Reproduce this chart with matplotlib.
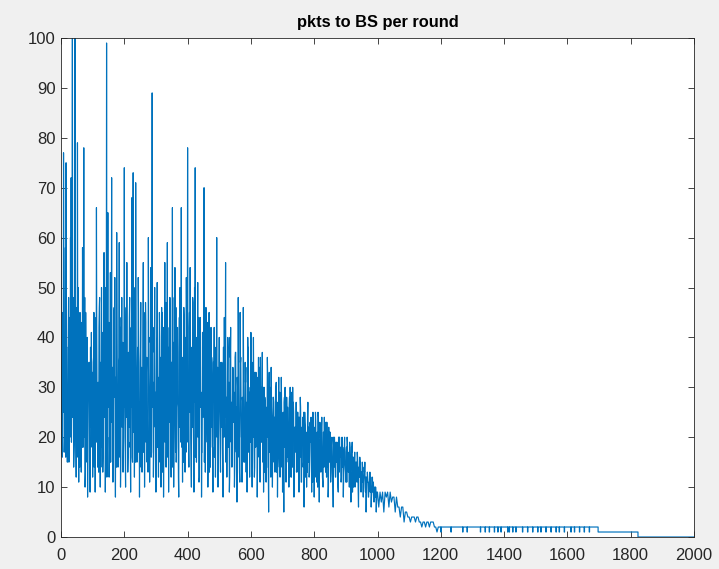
#Description
"""
Plots the number of packets delivered to the base station in every round.
"""

#Libraries
import matplotlib
matplotlib.use('Agg')
import matplotlib.pyplot as plt
import numpy as np

#Data
##Packets on rounds 0, 4, 8, ... 996 (peaks and troughs)
pkts_0 = [60, 16, 77, 18, 75, 15, 48, 20, 72, 100, 14, 100, 12, 79, 11, 45, 13, 58, 78, 10, 33, 8, 35, 9, 41]
pkts_100 = [12, 45, 9, 66, 14, 42, 10, 50, 13, 57, 9, 99, 65, 12, 53, 72, 11, 46, 8, 61, 14, 59, 10, 48, 13]
pkts_200 = [74, 10, 55, 16, 44, 9, 68, 73, 12, 71, 15, 52, 8, 47, 13, 55, 10, 43, 15, 60, 11, 54, 89, 12, 50]
pkts_300 = [9, 51, 12, 40, 10, 45, 8, 55, 14, 59, 9, 48, 12, 66, 10, 54, 15, 42, 8, 50, 66, 11, 46, 13, 52]
pkts_400 = [78, 14, 54, 10, 48, 9, 74, 15, 51, 11, 44, 8, 41, 70, 13, 38, 10, 45, 14, 36, 9, 42, 12, 60, 10]
pkts_500 = [40, 13, 35, 8, 44, 55, 12, 38, 9, 42, 14, 33, 10, 37, 7, 48, 13, 36, 11, 46, 15, 34, 9, 38, 12]
pkts_600 = [41, 10, 40, 14, 33, 8, 36, 12, 30, 37, 9, 28, 11, 36, 5, 30, 34, 10, 27, 13, 31, 8, 32, 12, 32]
pkts_700 = [9, 5, 30, 14, 26, 10, 30, 12, 30, 8, 22, 13, 25, 9, 28, 11, 24, 6, 22, 10, 27, 12, 20, 9, 25]
pkts_800 = [8, 25, 11, 25, 7, 22, 24, 10, 24, 13, 23, 8, 21, 11, 20, 6, 20, 12, 19, 9, 20, 14, 20, 8, 20]
pkts_900 = [11, 20, 13, 19, 7, 19, 10, 17, 12, 17, 6, 16, 9, 15, 11, 15, 5, 13, 8, 13, 6, 12, 9, 10, 5]

##Packets on rounds 2, 6, 10, ... 998
mid_0 = [22, 45, 17, 58, 25, 38, 16, 60, 30, 48, 19, 35, 27, 50, 14, 40, 24, 18, 32, 45, 15, 28, 22, 38, 18]
mid_100 = [35, 17, 42, 25, 30, 48, 22, 14, 38, 28, 45, 20, 33, 15, 40, 24, 31, 52, 20, 27, 35, 16, 44, 22, 30]
mid_200 = [20, 46, 26, 35, 18, 42, 15, 30, 50, 22, 38, 17, 35, 28, 20, 45, 24, 33, 19, 40, 26, 17, 30, 42, 22]
mid_300 = [38, 20, 33, 27, 46, 18, 40, 22, 30, 16, 42, 25, 35, 20, 48, 17, 32, 26, 44, 21, 18, 36, 24, 40, 19]
mid_400 = [28, 45, 20, 38, 24, 50, 18, 35, 21, 40, 27, 17, 33, 22, 46, 19, 30, 24, 42, 18, 35, 23, 38, 20, 31]
mid_500 = [22, 30, 18, 38, 24, 17, 33, 21, 40, 19, 28, 24, 36, 17, 30, 22, 45, 20, 27, 16, 35, 22, 40, 18, 30]
mid_600 = [20, 35, 18, 28, 24, 32, 16, 36, 22, 15, 30, 20, 26, 14, 33, 18, 24, 28, 15, 30, 19, 26, 14, 28, 20]
mid_700 = [25, 28, 18, 24, 15, 28, 20, 16, 27, 22, 17, 25, 14, 24, 18, 20, 15, 25, 18, 13, 22, 17, 24, 15, 20]
mid_800 = [22, 14, 20, 16, 23, 15, 12, 21, 17, 19, 14, 22, 16, 18, 12, 19, 15, 17, 13, 20, 16, 12, 18, 15, 14]
mid_900 = [18, 14, 17, 12, 18, 13, 16, 11, 15, 14, 12, 15, 13, 10, 14, 9, 12, 11, 10, 12, 9, 11, 8, 10, 9]

##Packets on odd rounds 1, 3, 5, ... 999
odd_0 = [30, 18, 42, 25, 55, 20, 35, 16, 47, 28, 22, 38, 15, 44, 26, 33, 19, 50, 24, 36, 17, 41, 29, 21, 46,
         16, 34, 27, 39, 14, 31, 23, 43, 18, 37, 25, 20, 48, 13, 32, 26, 40, 17, 29, 35, 12, 38, 22, 27, 33]
odd_100 = [21, 36, 14, 44, 27, 19, 39, 25, 31, 13, 46, 22, 35, 18, 28, 41, 16, 33, 24, 50, 19, 30, 12, 37, 26,
           43, 20, 29, 15, 38, 23, 34, 17, 45, 28, 21, 32, 14, 40, 25, 18, 36, 27, 42, 16, 31, 22, 39, 19, 26]
odd_200 = [33, 17, 41, 24, 29, 13, 37, 22, 48, 19, 30, 26, 16, 43, 21, 35, 28, 15, 40, 23, 32, 18, 45, 27, 20,
           38, 14, 34, 25, 42, 17, 30, 22, 47, 19, 36, 24, 13, 39, 28, 21, 33, 16, 44, 26, 31, 18, 37, 23, 29]
odd_300 = [24, 40, 18, 32, 27, 45, 15, 36, 22, 29, 13, 42, 25, 34, 19, 47, 21, 30, 16, 38, 28, 23, 43, 17, 35,
           26, 14, 39, 20, 33, 24, 46, 18, 31, 27, 12, 37, 22, 41, 19, 29, 25, 36, 15, 44, 21, 32, 17, 38, 26]
odd_400 = [30, 19, 42, 25, 35, 14, 38, 22, 47, 18, 31, 27, 16, 40, 23, 33, 20, 44, 12, 36, 26, 29, 17, 41, 24,
           34, 15, 37, 21, 30, 28, 43, 19, 32, 13, 39, 25, 22, 35, 18, 31, 27, 16, 38, 23, 29, 20, 34, 14, 33]
odd_500 = [27, 16, 35, 22, 30, 13, 38, 20, 25, 33, 15, 28, 24, 40, 18, 31, 12, 36, 21, 27, 17, 34, 23, 29, 14,
           37, 19, 26, 32, 16, 30, 22, 11, 35, 25, 20, 28, 15, 33, 18, 24, 31, 13, 27, 21, 36, 17, 29, 23, 19]
odd_600 = [25, 14, 31, 20, 27, 12, 33, 18, 23, 29, 15, 26, 21, 34, 11, 28, 19, 24, 16, 30, 22, 13, 27, 18, 25,
           20, 32, 14, 23, 17, 29, 12, 26, 21, 19, 28, 15, 24, 22, 30, 13, 27, 18, 25, 16, 29, 20, 14, 26, 23]
odd_700 = [21, 13, 27, 18, 24, 11, 28, 16, 22, 19, 26, 12, 23, 17, 29, 14, 20, 25, 10, 22, 18, 27, 15, 21, 13,
           24, 19, 16, 26, 11, 22, 20, 14, 25, 17, 23, 12, 21, 18, 24, 15, 20, 13, 23, 19, 16, 22, 11, 21, 18]
odd_800 = [19, 12, 23, 16, 21, 10, 24, 15, 18, 20, 13, 22, 17, 11, 21, 14, 19, 16, 23, 12, 18, 20, 10, 17, 15,
           21, 13, 19, 16, 11, 20, 14, 18, 12, 19, 15, 17, 10, 20, 13, 16, 18, 11, 19, 14, 17, 12, 18, 15, 13]
odd_900 = [17, 11, 19, 14, 16, 10, 18, 13, 15, 17, 9, 16, 12, 14, 10, 15, 13, 11, 16, 9, 14, 12, 15, 10, 13,
           11, 14, 8, 12, 13, 10, 12, 9, 11, 12, 8, 11, 10, 9, 12, 8, 10, 9, 11, 7, 10, 8, 9, 7, 9]

##Rounds 1000..1196, every 4 rounds
pkts_1000 = [9, 6, 9, 7, 9, 5, 9, 8, 9, 6, 9, 7, 8, 8, 5, 8, 6, 6, 4, 6, 6, 3, 5, 5, 4]
pkts_1100 = [4, 3, 4, 4, 4, 3, 4, 4, 3, 3, 2, 3, 3, 2, 3, 3, 2, 3, 3, 3, 2, 2, 1, 2, 2]

##Tail: 2 packets per round with single-round drops to 1
tail_drops = [1200, 1232, 1269, 1283, 1325, 1340, 1353, 1369, 1380, 1390, 1411,
              1416, 1427, 1437, 1458, 1474, 1490, 1506, 1516, 1532, 1548, 1564,
              1574, 1590, 1611, 1622, 1638, 1653, 1669]
tail_end_rounds = [1697, 1823, 2000]
tail_end_pkts = [1, 0, 0]

#Styles
LINE_COLOR = '#0072BD'
AXIS_COLOR = '#262626'
BG_COLOR = '#F0F0F0'


#Main
def main():
    ##Rounds 0..999, one value per round
    peaks = pkts_0 + pkts_100 + pkts_200 + pkts_300 + pkts_400 + pkts_500 + pkts_600 + pkts_700 + pkts_800 + pkts_900
    mids = mid_0 + mid_100 + mid_200 + mid_300 + mid_400 + mid_500 + mid_600 + mid_700 + mid_800 + mid_900
    odds = odd_0 + odd_100 + odd_200 + odd_300 + odd_400 + odd_500 + odd_600 + odd_700 + odd_800 + odd_900
    evens = [v for pair in zip(peaks, mids) for v in pair]
    early_pkts = [v for pair in zip(evens, odds) for v in pair]
    early_rounds = list(np.arange(len(early_pkts)))

    ##Rounds 1000..1196
    late_pkts = pkts_1000 + pkts_1100
    late_rounds = list(np.arange(1000, 1200, 4))

    ##Tail as a step line
    tail_x, tail_y = [], []
    for d in tail_drops:
        tail_x += [d, d, d + 1, d + 1]
        tail_y += [2, 1, 1, 2]
    prev = 2
    for r, p in zip(tail_end_rounds, tail_end_pkts):
        tail_x += [r, r]
        tail_y += [prev, p]
        prev = p

    rounds = early_rounds + late_rounds + tail_x
    pkts = early_pkts + late_pkts + tail_y

    ##Figure
    plt.rcParams['font.family'] = ['Liberation Sans', 'DejaVu Sans']
    fig = plt.figure(figsize=(7.19, 5.69), dpi=100, facecolor=BG_COLOR)
    ax = fig.add_axes([61 / 719, 32 / 569, 633 / 719, 499 / 569])
    ax.plot(rounds, pkts, color=LINE_COLOR, linewidth=0.85)

    ##Axes
    ax.set_xlim(0, 2000)
    ax.set_ylim(0, 100)
    ax.set_xticks(np.arange(0, 2001, 200))
    ax.set_yticks(np.arange(0, 101, 10))
    ax.tick_params(direction='in', top=True, right=True, length=4,
                   width=0.6, colors=AXIS_COLOR, labelsize=12, pad=4)
    ax.tick_params(axis='x', pad=8)
    for spine in ax.spines.values():
        spine.set_color(AXIS_COLOR)
        spine.set_linewidth(0.6)
    ax.set_title('pkts to BS per round', fontsize=11.8, fontweight='bold',
                 color='black', pad=8)

    fig.savefig('out.png', dpi=100, facecolor=BG_COLOR)
    plt.close()


#Execution
if __name__ == '__main__':
    main()
